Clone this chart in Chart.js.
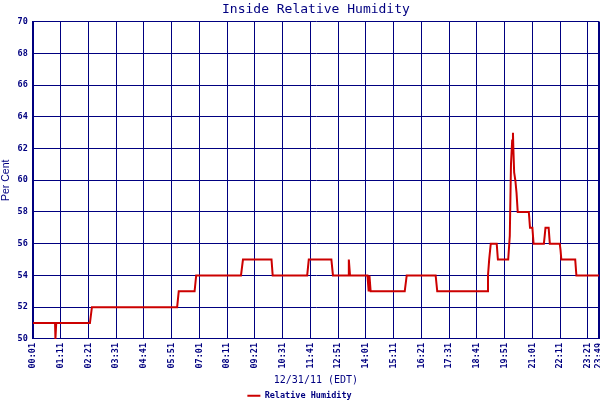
<!DOCTYPE html>
<html><head><meta charset="utf-8">
<script src="https://cdn.jsdelivr.net/npm/chart.js@4.4.1/dist/chart.umd.min.js"></script>
<style>html,body{margin:0;padding:0;background:#fff}#wrap{width:600px;height:400px}</style>
</head><body><div id="wrap"><canvas id="c" width="600" height="400"></canvas></div>
<script>
// Time of day in minutes after midnight for each sample
const sampleMinutes = [1, 57, 58, 60, 145, 150, 365, 369, 409, 413, 526, 531, 603, 606, 693, 697, 754, 758,
  796, 798, 801, 845, 848, 850, 853, 939, 944, 1017, 1021, 1147, 1149, 1152, 1156, 1171, 1174,
  1200, 1204, 1207, 1210, 1212, 1213, 1215, 1218, 1221, 1224, 1252, 1255, 1261, 1264,
  1290, 1292, 1294, 1302, 1305, 1330, 1332, 1334, 1369, 1372, 1429];
// Relative humidity (%) at each sample
const humidity = [51, 51, 50, 51, 51, 52, 52, 53, 53, 54, 54, 55, 55, 54, 54, 55, 55, 54,
  54, 55, 54, 54, 53, 54, 53, 53, 54, 54, 53, 53, 54, 55, 56, 56, 55,
  55, 56.5, 61, 62.5, 63, 62, 60.5, 60, 59.2, 58, 58, 57, 57, 56,
  56, 56.5, 57, 57, 56, 56, 55.6, 55, 55, 54, 54];
const tickMinutes = [1, 71, 141, 211, 281, 351, 421, 491, 561, 631, 701, 771, 841, 911, 981, 1051, 1121, 1191, 1261, 1331, 1401, 1429];
const tickLabels = ['00:01','01:11','02:21','03:31','04:41','05:51','07:01','08:11','09:21','10:31','11:41','12:51','14:01','15:11','16:21','17:31','18:41','19:51','21:01','22:11','23:21','23:49'];
const yMin = 50, yMax = 70, yStep = 2;

const NAVY = '#000080';
const RED = '#cc0000';
const MONO = "'DejaVu Sans Mono', 'Liberation Mono', monospace";

new Chart(document.getElementById('c'), {
  type: 'line',
  data: {
    datasets: [{
      label: 'Relative Humidity',
      data: sampleMinutes.map((m, i) => ({ x: m, y: humidity[i] })),
      borderColor: RED,
      backgroundColor: RED,
      borderWidth: 2,
      pointRadius: 0,
      tension: 0,
      fill: false
    }]
  },
  options: {
    responsive: false,
    animation: false,
    devicePixelRatio: 1,
    layout: { padding: { left: 0, right: 1, top: 2, bottom: -10 } },
    plugins: {
      title: {
        display: true,
        text: 'Inside Relative Humidity',
        color: NAVY,
        fullSize: false,
        font: { family: MONO, size: 13, weight: 'normal' },
        padding: { top: 0, bottom: 4 }
      },
      legend: {
        position: 'bottom',
        labels: {
          color: NAVY,
          font: { family: MONO, size: 8.5, weight: 'bold' },
          boxWidth: 13,
          boxHeight: 2,
          padding: 2,
          generateLabels: (chart) => Chart.defaults.plugins.legend.labels.generateLabels(chart)
            .map(l => Object.assign(l, { lineWidth: 0, fillStyle: RED }))
        }
      },
      tooltip: { enabled: false }
    },
    scales: {
      x: {
        type: 'linear',
        min: tickMinutes[0],
        max: tickMinutes[tickMinutes.length - 1],
        afterBuildTicks: (s) => { s.ticks = tickMinutes.map(v => ({ value: v })); },
        afterFit: (s) => { s.paddingRight = 0; s.paddingLeft = 0; },
        ticks: {
          autoSkip: false,
          maxRotation: 90,
          minRotation: 90,
          padding: 4,
          color: NAVY,
          font: { family: MONO, size: 8.5, weight: 'bold' },
          callback: (v, i) => tickLabels[i]
        },
        grid: {
          color: NAVY,
          drawTicks: false,
          lineWidth: (ctx) => (ctx.tick && ctx.tick.value === tickMinutes[tickMinutes.length - 1]) ? 2 : 1
        },
        border: { color: NAVY, width: 1 },
        title: {
          display: true,
          text: '12/31/11 (EDT)',
          color: NAVY,
          font: { family: MONO, size: 10 },
          padding: { top: 2, bottom: 3 }
        }
      },
      y: {
        min: yMin,
        max: yMax,
        ticks: {
          stepSize: yStep,
          padding: 5,
          color: NAVY,
          font: { family: MONO, size: 8.5, weight: 'bold' }
        },
        grid: { color: NAVY, drawTicks: false },
        border: { color: NAVY, width: 2 },
        title: {
          display: true,
          text: 'Per Cent',
          color: NAVY,
          font: { family: "'Liberation Sans', sans-serif", size: 10.5 },
          padding: { top: 0, bottom: 0 }
        }
      }
    }
  }
});
</script>
</body></html>
